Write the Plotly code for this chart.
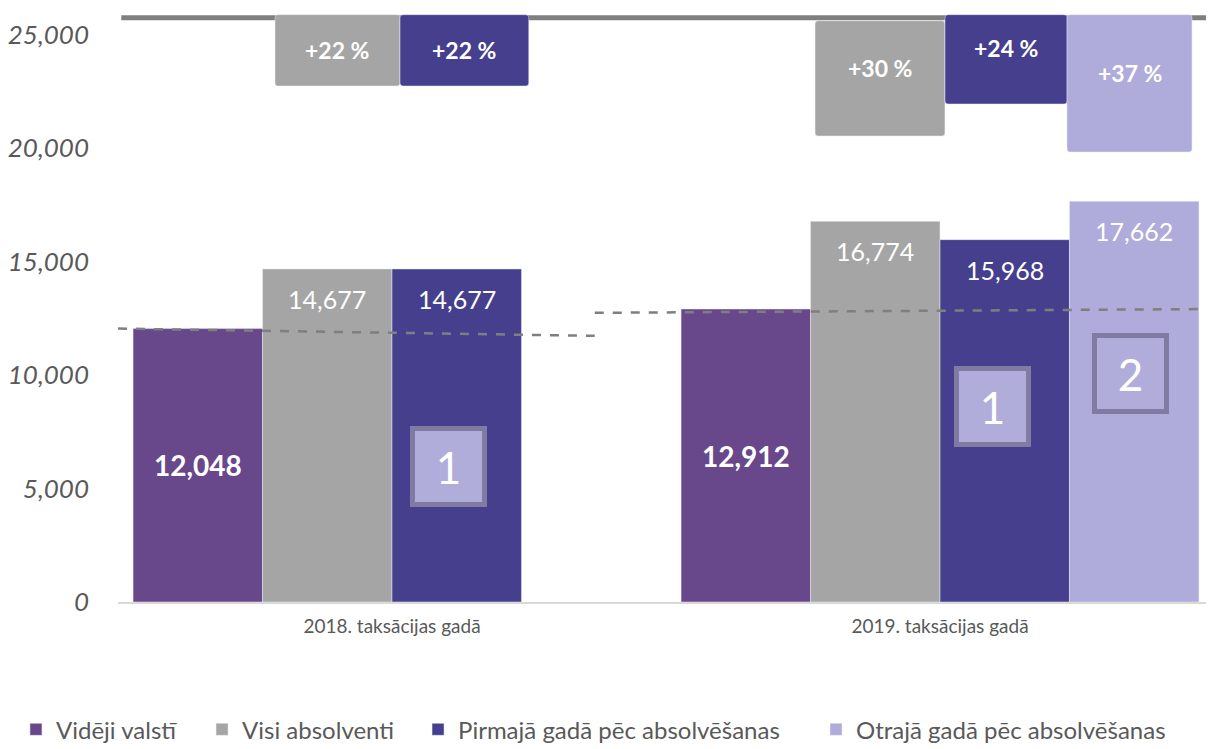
import plotly.graph_objects as go

# ---------------- data ----------------
categories = ["2018. taksācijas gadā", "2019. taksācijas gadā"]
series_names = ["Vidēji valstī", "Visi absolventi",
                "Pirmajā gadā pēc absolvēšanas", "Otrajā gadā pēc absolvēšanas"]
videji = [12048, 12912]
visi = [14677, 16774]
pirmaja = [14677, 15968]
otraja = [None, 17662]

# percentage change boxes hanging from the top line
visi_delta = ["+22 %", "+30 %"]
pirmaja_delta = ["+22 %", "+24 %"]
otraja_delta = [None, "+37 %"]
visi_box_top = [25882, 25617]
visi_box_bottom = [22739, 20536]
pirmaja_box_top = [25882, 25882]
pirmaja_box_bottom = [22739, 21946]
otraja_box_top = [None, 25882]
otraja_box_bottom = [None, 19831]
visi_delta_text_y = [24326, 23533]
pirmaja_delta_text_y = [24326, 24414]
otraja_delta_text_y = [None, 23313]

# dashed trend lines (start, end)
trend_2018 = [12048, 11728]
trend_2019 = [12743, 12912]
top_line = 25750

# numbered markers
marker_labels = ["1", "1", "2"]
marker_y = [5952, 8598, 10053]

# ---------------- styles ----------------
C_PURPLE = "#68478B"
C_GRAY = "#A5A5A5"
C_BLUE = "#463F8E"
C_LIGHT = "#AFABDA"
TXT = "#595959"
FONT = "Lato"

BARGAP = 0.055
slot = (1 - BARGAP) / 4

fig = go.Figure()

fig.add_trace(go.Bar(name=series_names[0], x=categories, y=videji, marker_color=C_PURPLE,
                     texttemplate="<b>%{y:,}</b>", textposition="inside",
                     insidetextanchor="middle", legend="legend",
                     textfont=dict(family=FONT, size=28, color="white")))
fig.add_trace(go.Bar(name=series_names[1], x=categories, y=visi, marker_color=C_GRAY,
                     legend="legend2"))
fig.add_trace(go.Bar(name=series_names[2], x=categories, y=pirmaja, marker_color=C_BLUE,
                     legend="legend3"))
fig.add_trace(go.Bar(name=series_names[3], x=categories, y=otraja, marker_color=C_LIGHT,
                     legend="legend4"))

# delta boxes on overlay axis
def hang(tops, bottoms):
    h = [None if t is None else b - t for t, b in zip(tops, bottoms)]
    return tops, h

for tops, bottoms, col, offs, wid in [
    (visi_box_top, visi_box_bottom, C_GRAY, [-0.2135, -0.228], [0.228, 0.237]),
    (pirmaja_box_top, pirmaja_box_bottom, C_BLUE, [0.0146, 0.0091], [0.235, 0.223]),
    (otraja_box_top, otraja_box_bottom, C_LIGHT, [0.2318, 0.2318], [0.228, 0.228]),
]:
    base, h = hang(tops, bottoms)
    fig.add_trace(go.Bar(x=categories, y=h, base=base, xaxis="x2", yaxis="y",
                         marker=dict(color=col, cornerradius=3), offset=offs, width=wid,
                         showlegend=False, hoverinfo="skip"))

annotations = []
# value labels near top of bars
for vals, off in [(visi, -slot / 2), (pirmaja, slot / 2), (otraja, 1.5 * slot)]:
    for i, v in enumerate(vals):
        if v is None:
            continue
        annotations.append(dict(x=i + off, y=v, xref="x", yref="y", text=f"{v:,}",
                                showarrow=False, yshift=-30,
                                font=dict(family=FONT, size=25, color="white")))
# delta labels
for labels, ys, offs in [
    (visi_delta, visi_delta_text_y, [-0.2135 + 0.114, -0.228 + 0.1185]),
    (pirmaja_delta, pirmaja_delta_text_y, [0.0146 + 0.1175, 0.0091 + 0.1115]),
    (otraja_delta, otraja_delta_text_y, [0.2318 + 0.114, 0.2318 + 0.114]),
]:
    for i, (t, yy) in enumerate(zip(labels, ys)):
        if t is None:
            continue
        annotations.append(dict(x=i + offs[i], y=yy, xref="x", yref="y",
                                text=f"<b>{t}</b>", showarrow=False,
                                font=dict(family=FONT, size=23, color="white")))
# numbered markers
marker_x = [0 + 0.104, 1 + 0.0967, 1 + 0.347]
for lab, mx, my in zip(marker_labels, marker_x, marker_y):
    annotations.append(dict(x=mx, y=my, xref="x", yref="y", text=lab, showarrow=False,
                            width=63, height=67, borderpad=2, borderwidth=5,
                            bordercolor="#7F7BA3", bgcolor="#B0ADDB",
                            font=dict(family=FONT, size=44, color="white")))

shapes = [
    dict(type="line", xref="paper", yref="y", x0=0.003, x1=1, y0=top_line, y1=top_line,
         line=dict(color="#7F7F7F", width=5), layer="below"),
    dict(type="line", xref="x", yref="y", x0=-0.5, x1=0.37, y0=trend_2018[0], y1=trend_2018[1],
         line=dict(color="#7F7F7F", width=2.5, dash="dash")),
    dict(type="line", xref="x", yref="y", x0=0.37, x1=1.5, y0=trend_2019[0], y1=trend_2019[1],
         line=dict(color="#7F7F7F", width=2.5, dash="dash")),
]

def legend_at(xpos):
    return dict(orientation="h", xref="container", yref="container", x=xpos, y=0.026,
                xanchor="left", yanchor="middle", bgcolor="rgba(0,0,0,0)",
                font=dict(family=FONT, size=24, color=TXT))

# page body has an 8px default margin, so the figure is sized/offset to compensate
fig.update_layout(
    width=1206, height=741,
    margin=dict(l=110, r=0, t=4, b=147, autoexpand=False),
    paper_bgcolor="white", plot_bgcolor="white",
    barmode="group", bargap=BARGAP, bargroupgap=0,
    font=dict(family=FONT, color=TXT),
    xaxis=dict(type="category", range=[-0.5, 1.5], showgrid=False, showline=True,
               linecolor="#D9D9D9", linewidth=2, ticks="", automargin=False,
               ticklabelstandoff=6,
               tickfont=dict(family=FONT, size=19, color=TXT)),
    xaxis2=dict(type="category", overlaying="x", range=[-0.5, 1.5], visible=False),
    yaxis=dict(range=[0, 26000], tickvals=[0, 5000, 10000, 15000, 20000, 25000],
               ticktext=["<i>0</i>", "<i>5,000</i>", "<i>10,000</i>", "<i>15,000</i>",
                         "<i>20,000</i>", "<i>25,000</i>"],
               showgrid=False, zeroline=False, showline=False, ticks="",
               ticklabelstandoff=28, automargin=False,
               tickfont=dict(family=FONT, size=26, color=TXT)),
    legend=legend_at(0.0066),
    legend2=legend_at(0.1609),
    legend3=legend_at(0.3400),
    legend4=legend_at(0.6700),
    annotations=annotations,
    shapes=shapes,
)

fig.write_html("out.html")
